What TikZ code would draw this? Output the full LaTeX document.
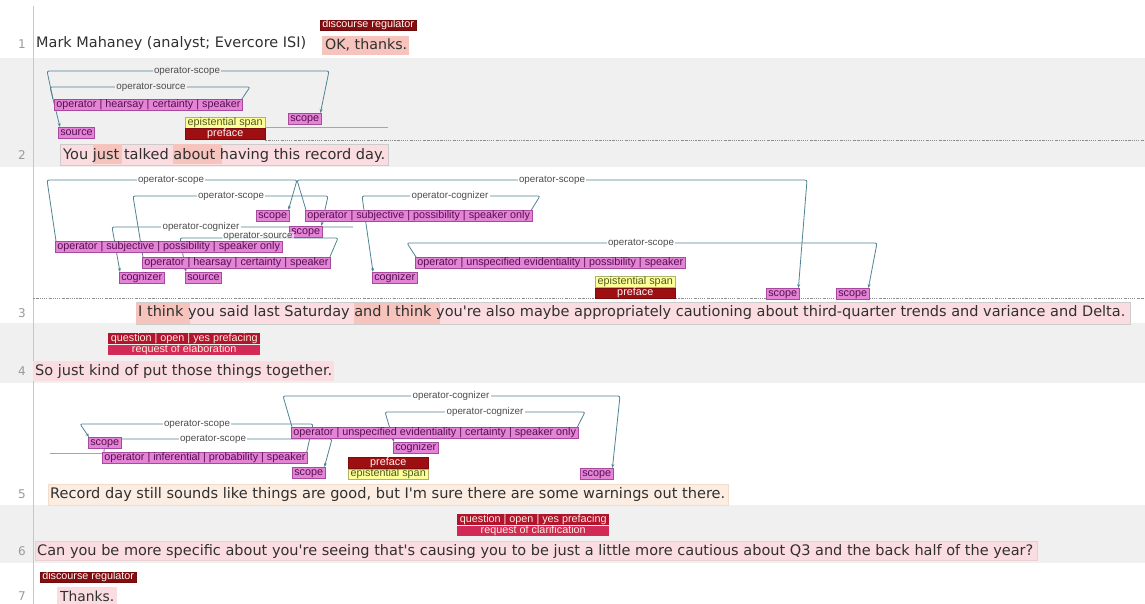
\documentclass[tikz,border=0pt]{standalone}
\usepackage{graphicx}
\usepackage{fontspec}
\setmainfont{DejaVu Sans}[Ligatures=TeXOff]
\newfontfamily\labfont{Liberation Sans}
\usetikzlibrary{arrows.meta,calc}
\definecolor{rowgray}{HTML}{F0F0F0}
\definecolor{pinkfill}{HTML}{E384D6}
\definecolor{pinkdraw}{HTML}{A8489E}
\definecolor{pinktext}{HTML}{56104E}
\definecolor{darkred}{HTML}{9E0F12}
\definecolor{yel}{HTML}{FFFF99}
\definecolor{yeltext}{HTML}{4A5A20}
\definecolor{qtop}{HTML}{B0142E}
\definecolor{qbot}{HTML}{D22A57}
\definecolor{arcc}{HTML}{4F8494}
\definecolor{hlpink}{HTML}{FBDDE1}
\definecolor{hlsalmon}{HTML}{F6C4BC}
\definecolor{hlpeach}{HTML}{FCEDE2}
\definecolor{txtc}{HTML}{303030}
\definecolor{numc}{HTML}{9A9A9A}
\pgfdeclarelayer{bg}
\pgfdeclarelayer{arcs}
\pgfsetlayers{bg,arcs,main}
\begin{document}
\begin{tikzpicture}[x=1pt,y=-1pt,
 lab/.style={rectangle, anchor=north west, inner xsep=2pt, inner ysep=0.5pt, text height=7.6pt, text depth=2.2pt, font=\labfont\fontsize{10.8}{11}\selectfont},
 plab/.style={lab, fill=pinkfill, draw=pinkdraw, line width=0.6pt, text=pinktext},
 rlab/.style={lab, fill=darkred, draw=darkred!80!black, line width=0.5pt, text=white!85!pink, minimum width=80pt},
 ylab/.style={lab, fill=yel, draw=yel!70!black, line width=0.5pt, text=yeltext, minimum width=80pt},
 dlab/.style={lab, fill=darkred!85!black, draw=darkred!70!black, line width=0.5pt, text=white!85!pink, minimum width=94pt, text height=7pt, text depth=2pt},
 qtopst/.style={lab, fill=qtop, text=white!85!orange, minimum width=152pt, text height=7.2pt, text depth=2pt, inner ysep=1pt},
 qbotst/.style={lab, fill=qbot, text=white!85!orange, minimum width=152pt, text height=7.2pt, text depth=2pt, inner ysep=0.5pt},
 txt/.style={anchor=west, inner sep=0pt, text=txtc},
 num/.style={inner sep=0pt, text=numc, font=\fontsize{12}{13}\selectfont},
 arc/.style={draw=arcc, line width=0.8pt, rounded corners=2pt, -{Stealth[length=4pt,width=3pt]}},
 arclab/.style={font=\labfont\fontsize{9.8}{10}\selectfont, text=black!70, inner xsep=1.5pt, inner ysep=0.5pt, fill=white},
 dotline/.style={draw=black!45, line width=0.6pt, dash pattern=on 1.5pt off 1.2pt on 0.4pt off 1.2pt},
 spanline/.style={draw=black!35, line width=0.6pt}
]
\useasboundingbox (0,0) rectangle (1145,604);
\begin{pgfonlayer}{bg}
\fill[white] (0,0) rectangle (1145,604);
\fill[rowgray] (0,58) rectangle (1145,167);
\fill[rowgray] (0,323) rectangle (1145,383);
\fill[rowgray] (0,505) rectangle (1145,563);
\draw[black!22, line width=1pt] (33,6) -- (33,604);
% highlights
\fill[hlsalmon] (322,36) rectangle (409,55);
\fill[hlpink, draw=black!20] (60,144) rectangle (388,165);
\fill[hlsalmon] (93,144.5) rectangle (122,164.5);
\fill[hlsalmon] (173,144.5) rectangle (222,164.5);
\fill[hlpink, draw=black!20] (136,302) rectangle (1130,324);
\fill[hlsalmon] (136,302.5) rectangle (190,323.5);
\fill[hlsalmon] (354,302.5) rectangle (440,323.5);
\fill[hlpink] (33,361) rectangle (334,381);
\fill[hlpeach, draw=hlpeach!85!brown] (48,484) rectangle (728,505);
\fill[hlpink, draw=hlpink!85!gray] (35,541) rectangle (1037,560);
\fill[hlpink] (57,587) rectangle (117,604);
\draw[dotline] (265,140) -- (1145,140);
\draw[dotline] (33,298) -- (1145,298);
\draw[spanline] (265,127) -- (388,127);
\draw[spanline] (50,453) -- (102,453);
\end{pgfonlayer}

% line numbers
\node[num] (n1) at (22,44) {1};
\node[num] (n2) at (22,155) {2};
\node[num] (n3) at (22,313) {3};
\node[num] (n4) at (22,371) {4};
\node[num] (n5) at (22,494) {5};
\node[num] (n6) at (22,551) {6};
\node[num] (n7) at (22,596) {7};

% sentences
\node[txt] (t1) at (36,44) {\resizebox{270pt}{!}{Mark Mahaney (analyst; Evercore ISI)}};
\node[txt] (t1b) at (325,45) {\resizebox{82pt}{!}{OK, thanks.}};
\node[txt] (t2) at (63,155) {\resizebox{322pt}{!}{You just talked about having this record day.}};
\node[txt] (t3) at (138,313) {\resizebox{987pt}{!}{I think you said last Saturday and I think you're also maybe appropriately cautioning about third-quarter trends and variance and Delta.}};
\node[txt] (t4) at (35,371) {\resizebox{297pt}{!}{So just kind of put those things together.}};
\node[txt] (t5) at (50,494) {\resizebox{675pt}{!}{Record day still sounds like things are good, but I'm sure there are some warnings out there.}};
\node[txt] (t6) at (37,551) {\resizebox{996pt}{!}{Can you be more specific about you're seeing that's causing you to be just a little more cautious about Q3 and the back half of the year?}};
\node[txt] (t7) at (60,596) {\resizebox{54pt}{!}{Thanks.}};

% row 1
\node[dlab] (dr1) at (320,20) {discourse regulator};
% row 2
\node[plab] (r2op) at (54,99) {operator | hearsay | certainty | speaker};
\node[plab] (r2src) at (58,127) {source};
\node[plab] (r2sc) at (288,113) {scope};
\node[ylab] (r2ep) at (185,117) {epistential span};
\node[rlab] (r2pf) at (185,128.5) {preface};
% row 3
\node[plab] (r3scA) at (256,210) {scope};
\node[plab] (r3opB) at (305,210) {operator | subjective | possibility | speaker only};
\node[plab] (r3scB) at (289,226) {scope};
\node[plab] (r3opA) at (55,241) {operator | subjective | possibility | speaker only};
\node[plab] (r3opH) at (142,257) {operator | hearsay | certainty | speaker};
\node[plab] (r3cogA) at (119,272) {cognizer};
\node[plab] (r3srcA) at (185,272) {source};
\node[plab] (r3opU) at (415,257) {operator | unspecified evidentiality | possibility | speaker};
\node[plab] (r3cogB) at (372,272) {cognizer};
\node[ylab] (r3ep) at (595,276) {epistential span};
\node[rlab] (r3pf) at (595,287.5) {preface};
\node[plab] (r3scC) at (766,288) {scope};
\node[plab] (r3scD) at (836,288) {scope};
\coordinate (d3r) at (353,227);
% row 4
\node[qtopst] (q4a) at (108,333) {question | open | yes prefacing};
\node[qbotst] (q4b) at (108,345) {request of elaboration};
% row 5
\node[plab] (r5opU) at (291,427) {operator | unspecified evidentiality | certainty | speaker only};
\node[plab] (r5sc1) at (88,437) {scope};
\node[plab] (r5cog) at (393,442) {cognizer};
\node[plab] (r5op) at (102,452) {operator | inferential | probability | speaker};
\node[rlab] (r5pf) at (348,457) {preface};
\node[ylab] (r5ep) at (348,468.5) {epistential span};
\node[plab] (r5sc2) at (292,467) {scope};
\node[plab] (r5sc3) at (580,468) {scope};
% row 6
\node[qtopst] (q6a) at (457,514) {question | open | yes prefacing};
\node[qbotst] (q6b) at (457,526) {request of clarification};
% row 7
\node[dlab] (dr7) at (40,572) {discourse regulator};

\begin{pgfonlayer}{arcs}
% row 2
\draw[arc] ([xshift=-1pt]r2op.north west) -- (47,71) -- (329,71) -- ([xshift=-1pt]r2sc.north east);
\draw[arc] ([xshift=-1pt]r2op.north east) -- (250,87) -- (50,87) -- ([xshift=2pt]r2src.north west);
\node[arclab, fill=rowgray] (l2a) at (187,71) {operator-scope};
\node[arclab, fill=rowgray] (l2b) at (151,87) {operator-source};
% row 3
\draw[arc] ([xshift=1pt]r3opA.north west) -- (47,180) -- (297,180) -- ([xshift=-1pt]r3scA.north east);
\draw[arc] ([xshift=1pt]r3opB.north west) -- (297,180) -- (807,180) -- ([xshift=-1pt]r3scC.north east);
\draw[arc] ([xshift=1pt]r3opH.north west) -- (133,196) -- (328,196) -- ([xshift=-1pt]r3scB.north east);
\draw[arc] (d3r) -- (112,227) -- ([xshift=1pt]r3cogA.north west);
\draw[arc] ([xshift=-1pt]r3opH.north east) -- (338,238) -- (180,238) -- ([xshift=1pt]r3srcA.north west);
\draw[arc] ([xshift=-1pt]r3opB.north east) -- (540,196) -- (362,196) -- ([xshift=1pt]r3cogB.north west);
\draw[arc] ([xshift=1pt]r3opU.north west) -- (407,243) -- (877,243) -- ([xshift=-1pt]r3scD.north east);
\node[arclab] (l3a) at (171,180) {operator-scope};
\node[arclab] (l3b) at (552,180) {operator-scope};
\node[arclab] (l3c) at (231,196) {operator-scope};
\node[arclab] (l3d) at (201,227) {operator-cognizer};
\node[arclab] (l3f) at (450,196) {operator-cognizer};
\node[arclab] (l3g) at (641,243) {operator-scope};
% row 5
\draw[arc] ([xshift=-1pt]r5op.north east) -- (313,424) -- (80,424) -- ([xshift=1pt]r5sc1.north west);
\draw[arc] ([xshift=2pt]r5op.north west) -- (105,439) -- (332,439) -- ([xshift=-1pt]r5sc2.north east);
\draw[arc] ([xshift=1pt]r5opU.north west) -- (283,396) -- (620,396) -- ([xshift=-1pt]r5sc3.north east);
\draw[arc] ([xshift=-1pt]r5opU.north east) -- (585,412) -- (385,412) -- ([xshift=1pt]r5cog.north west);
\node[arclab] (l5a) at (197,424) {operator-scope};
\node[arclab] (l5b) at (213,439) {operator-scope};
\node[arclab] (l5c) at (451,396) {operator-cognizer};
\node[arclab] (l5d) at (485,412) {operator-cognizer};
\end{pgfonlayer}
\node[arclab, fill=white, fill opacity=0.6, text opacity=1, inner ysep=0pt] (l3e) at (258,236.5) {operator-source};
\end{tikzpicture}
\end{document}
